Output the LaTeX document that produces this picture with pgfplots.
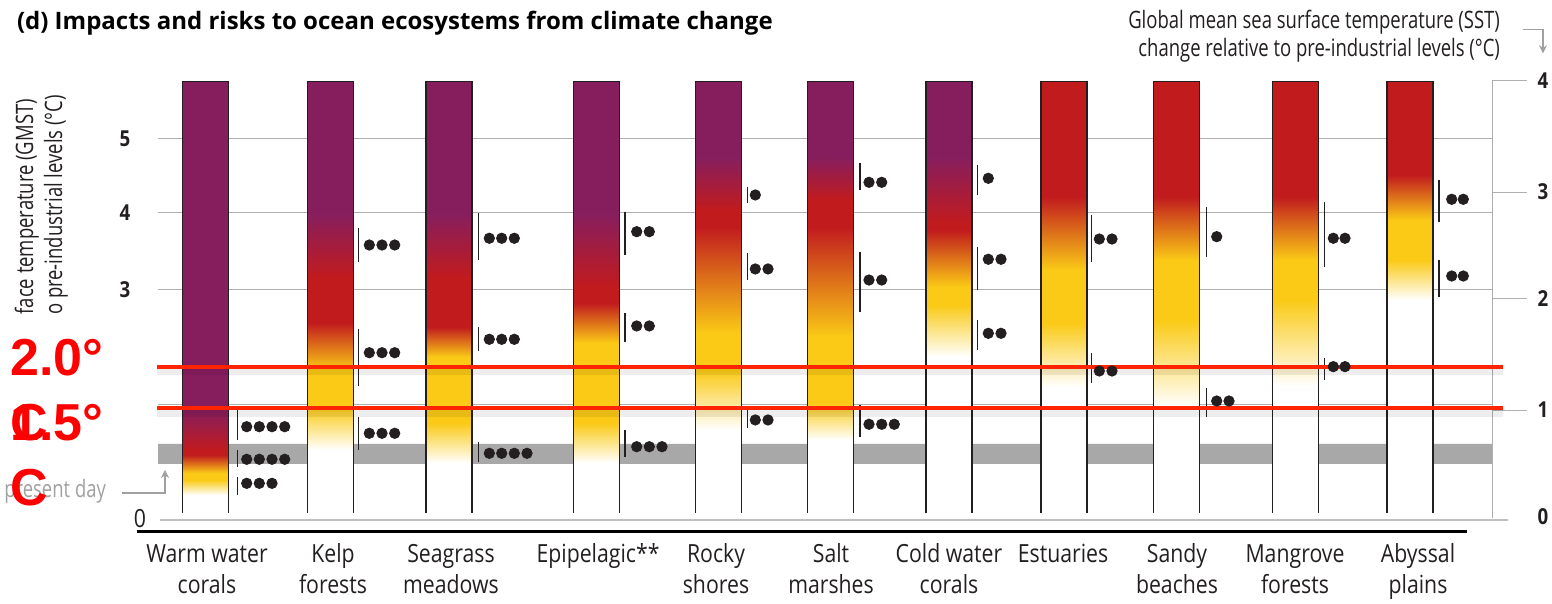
\documentclass[border=0pt]{standalone}
\usepackage{pgfplots}
\pgfplotsset{compat=1.18}
\usepackage{pgfplotstable}
\usepackage{fontspec}
\setmainfont{Open Sans}[FakeStretch=0.85]
\newfontfamily\hdrfont{Open Sans}[FakeStretch=0.77]
\newfontfamily\ttlfont{Open Sans}
\newfontfamily\redfnt{Liberation Sans}
\usetikzlibrary{arrows.meta}

\definecolor{cpurple}{RGB}{134,30,94}
\definecolor{cred}{RGB}{193,27,30}
\definecolor{cyellow}{RGB}{250,202,22}
\definecolor{textdark}{RGB}{35,31,32}
\definecolor{gridgray}{RGB}{175,175,175}
\definecolor{bandgray}{RGB}{168,168,168}
\definecolor{zerogray}{RGB}{190,190,190}
\definecolor{arrgray}{RGB}{160,160,160}
\definecolor{mark red}{RGB}{255,36,0}

\newcommand\lblfont{\fontsize{12.5}{15}\selectfont}
\newcommand\hdrsize{\hdrfont\fontsize{12}{14}\selectfont}
\newcommand\tickfont{\fontsize{11}{13}\selectfont\bfseries}
\newcommand\titlefnt{\ttlfont\fontsize{12}{14}\selectfont\bfseries}
\newcommand\bigred{\redfnt\bfseries\fontsize{26}{30}\selectfont}

% colour levels of each column, GMST (deg C): w = end of white,
% y1/y2 = solid yellow, r1/r2 = solid red, p1 = start of solid purple
\pgfplotstableread{
x      w     y1    y2    r1    r2    p1    top
205.7  0.310 0.508 0.600 0.838 0.904 1.431 5.77
330.3  0.904 1.471 1.959 2.579 3.186 4.030 5.77
449.0  0.732 1.260 2.131 2.526 3.186 4.030 5.77
596.3  0.732 1.260 2.315 2.843 3.054 4.030 5.77
718.7  1.168 1.959 2.447 3.846 4.070 4.769 5.77
830.5  1.036 1.524 2.395 3.846 4.202 4.769 5.77
949.0  2.131 2.817 3.054 3.806 3.898 4.769 5.77
1064.0 1.735 2.579 3.278 4.242 5.770 5.90  5.77
1176.7 1.471 2.619 3.410 4.242 5.770 5.90  5.77
1295.5 1.735 2.883 3.410 4.242 5.770 5.90  5.77
1410.0 2.883 3.410 3.938 4.532 5.770 5.90  5.77
}\bars

% one vertical shading per column; 25bp..75bp of it spans the bar
\pgfplotsforeachungrouped \i in {0,...,10}{%
  \pgfplotstablegetelem{\i}{top}\of\bars \let\ltop\pgfplotsretval
  \pgfplotstablegetelem{\i}{w}\of\bars  \pgfmathsetmacro\sA{25+50*\pgfplotsretval/\ltop}%
  \pgfplotstablegetelem{\i}{y1}\of\bars \pgfmathsetmacro\sB{25+50*\pgfplotsretval/\ltop}%
  \pgfplotstablegetelem{\i}{y2}\of\bars \pgfmathsetmacro\sC{25+50*\pgfplotsretval/\ltop}%
  \pgfplotstablegetelem{\i}{r1}\of\bars \pgfmathsetmacro\sD{25+50*\pgfplotsretval/\ltop}%
  \pgfplotstablegetelem{\i}{r2}\of\bars \pgfmathsetmacro\sE{25+50*\pgfplotsretval/\ltop}%
  \pgfplotstablegetelem{\i}{p1}\of\bars \pgfmathsetmacro\sF{25+50*\pgfplotsretval/\ltop}%
  \edef\tmp{\noexpand\pgfdeclareverticalshading{colbar\i}{100bp}{%
    color(0bp)=(white); color(\sA bp)=(white); color(\sB bp)=(cyellow);
    color(\sC bp)=(cyellow); color(\sD bp)=(cred); color(\sE bp)=(cred);
    color(\sF bp)=(cpurple); color(100bp)=(cpurple)}}%
  \tmp
}

\pgfplotsset{flat/.style={no marks}}

\begin{document}
\begin{tikzpicture}
\begin{axis}[
    name=ax, at={(0,0)}, anchor=south west,
    width=776pt, height=302pt, scale only axis,
    xmin=0, xmax=1552, ymin=-1.128, ymax=6.8404,
    axis lines=none, clip=false,
    unbounded coords=jump,
]
% present day band and grid
\addplot[flat, draw=none, fill=bandgray]
    coordinates {(158,0.719)(1492,0.719)(1492,0.983)(158,0.983)(158,0.719)};
\addplot[flat, gridgray, line width=0.5pt]
    coordinates {(158,5.016)(1492,5.016)(158,nan)
                 (158,4.034)(1492,4.034)(158,nan)
                 (158,3.015)(1492,3.015)(158,nan)
                 (158,1.507)(1492,1.507)};
\addplot[flat, zerogray, line width=0.75pt]
    coordinates {(160,-0.02)(1508,-0.02)};
% right SST axis
\addplot[flat, gridgray, line width=0.5pt]
    coordinates {(1492,0)(1492,5.772)(1527,5.772)(1492,nan)
                 (1492,4.307)(1527,4.307)(1492,nan)
                 (1492,2.896)(1527,2.896)(1492,nan)
                 (1492,1.431)(1527,1.431)};
\addplot[flat, black, line width=1.5pt]
    coordinates {(137,-0.165)(1467,-0.165)};

% colour bars, one per column
\pgfplotsinvokeforeach{0,...,10}{
  \addplot[ybar, bar width=46, bar shift=0pt, draw=none, shading=colbar#1,
           unbounded coords=discard, restrict expr to domain={\coordindex}{#1:#1}]
      table[x=x, y=top] {\bars};
}

% bar outlines
\addplot[flat, textdark, line width=0.6pt]
    coordinates {
    (182.7,0.07)(182.7,5.77)(228.7,5.77)(228.7,0.07)(0,nan)
    (307.3,0.07)(307.3,5.77)(353.3,5.77)(353.3,0.07)(0,nan)
    (426.0,0.07)(426.0,5.77)(472.0,5.77)(472.0,0.07)(0,nan)
    (573.3,0.07)(573.3,5.77)(619.3,5.77)(619.3,0.07)(0,nan)
    (695.7,0.07)(695.7,5.77)(741.7,5.77)(741.7,0.07)(0,nan)
    (807.5,0.07)(807.5,5.77)(853.5,5.77)(853.5,0.07)(0,nan)
    (926.0,0.07)(926.0,5.77)(972.0,5.77)(972.0,0.07)(0,nan)
    (1041.0,0.07)(1041.0,5.77)(1087.0,5.77)(1087.0,0.07)(0,nan)
    (1153.7,0.07)(1153.7,5.77)(1199.7,5.77)(1199.7,0.07)(0,nan)
    (1272.5,0.07)(1272.5,5.77)(1318.5,5.77)(1318.5,0.07)(0,nan)
    (1387.0,0.07)(1387.0,5.77)(1433.0,5.77)(1433.0,0.07)
    };

% confidence brackets
\addplot[flat, textdark, line width=0.75pt]
    coordinates {
    (237.3,1.431)(237.3,1.036)(0,nan)(237.3,0.904)(237.3,0.679)(0,nan)(237.3,0.547)(237.3,0.310)(0,nan)
    (358.3,3.833)(358.3,3.384)(0,nan)(358.3,2.500)(358.3,1.748)(0,nan)(358.3,1.343)(358.3,0.904)(0,nan)
    (478.7,4.026)(478.7,3.410)(0,nan)(478.7,2.526)(478.7,2.214)(0,nan)(478.7,1.013)(478.7,0.749)(0,nan)
    (625.0,4.048)(625.0,3.476)(0,nan)(625.0,2.715)(625.0,2.332)(0,nan)(625.0,1.168)(625.0,0.815)(0,nan)
    (747.7,4.377)(747.7,4.158)(0,nan)(747.7,3.499)(747.7,3.146)(0,nan)(747.7,1.431)(747.7,1.190)(0,nan)
    (860.0,4.686)(860.0,4.334)(0,nan)(860.0,3.520)(860.0,2.728)(0,nan)(860.0,1.497)(860.0,1.079)(0,nan)
    (977.7,4.664)(977.7,4.268)(0,nan)(977.7,3.586)(977.7,3.015)(0,nan)(977.7,2.619)(977.7,2.223)(0,nan)
    (1091.7,4.004)(1091.7,3.388)(0,nan)(1091.7,2.180)(1091.7,1.784)(0,nan)
    (1206.7,4.114)(1206.7,3.454)(0,nan)(1206.7,1.718)(1206.7,1.343)(0,nan)
    (1324.3,4.180)(1324.3,3.322)(0,nan)(1324.3,2.114)(1324.3,1.827)(0,nan)
    (1439.0,4.466)(1439.0,3.916)(0,nan)(1439.0,3.410)(1439.0,2.926)
    };
\addplot[only marks, mark=*, mark size=2.6pt,
         textdark, mark options={draw=textdark, fill=textdark}]
    coordinates {
    (246.7,1.211)(259.3,1.211)(272.0,1.211)(284.7,1.211)
    (246.7,0.781)(259.3,0.781)(272.0,0.781)(284.7,0.781)
    (246.7,0.464)(259.3,0.464)(272.0,0.464)
    (369.3,3.608)(382.0,3.608)(394.7,3.608)
    (369.3,2.187)(382.0,2.187)(394.7,2.187)
    (369.3,1.124)(382.0,1.124)(394.7,1.124)
    (489.3,3.697)(501.7,3.697)(514.3,3.697)
    (489.3,2.364)(501.7,2.364)(514.3,2.364)
    (489.3,0.860)(501.7,0.860)(514.3,0.860)(527.0,0.860)
    (636.7,3.784)(649.3,3.784)
    (636.7,2.540)(649.3,2.540)
    (636.7,0.947)(649.3,0.947)(662.0,0.947)
    (755.3,4.268)
    (755.3,3.292)(768.0,3.292)
    (755.3,1.300)(768.0,1.300)
    (869.0,4.435)(881.7,4.435)
    (869.0,3.146)(881.7,3.146)
    (869.0,1.243)(881.7,1.243)(894.3,1.243)
    (988.3,4.488)
    (988.3,3.420)(1001.0,3.420)
    (988.3,2.443)(1001.0,2.443)
    (1099.3,3.687)(1112.0,3.687)
    (1099.3,1.946)(1112.0,1.946)
    (1216.7,3.718)
    (1216.7,1.550)(1229.0,1.550)
    (1333.3,3.697)(1345.0,3.697)
    (1333.3,2.003)(1345.0,2.003)
    (1451.7,4.211)(1463.3,4.211)
    (1451.7,3.199)(1463.3,3.199)
    };

% red 2.0 and 1.5 degree lines with their soft shadow
\addplot[flat, black, opacity=0.07, line width=4pt]
    coordinates {(157,1.945)(1503,1.945)(157,nan)(157,1.396)(1503,1.396)};
\addplot[flat, mark red, line width=2pt]
    coordinates {(157,2.003)(1503,2.003)(157,nan)(157,1.454)(1503,1.454)};

% texts
\node[anchor=base west, font=\titlefnt, text=black] at (axis cs:10,6.4446)
    {(d) Impacts and risks to ocean ecosystems from climate change};
\node[anchor=base east, font=\hdrsize, text=textdark] at (axis cs:1507,6.466)
    {Global mean sea surface temperature (SST)};
\node[anchor=base east, font=\hdrsize, text=textdark] at (axis cs:1507,6.092)
    {change relative to pre-industrial levels (°C)};
\draw[arrgray, line width=0.6pt, -{Stealth[length=4pt,width=4pt]}]
    (axis cs:1523,6.454) -| (axis cs:1543,6.137);

\node[rotate=90, anchor=base east, font=\hdrsize, text=textdark] at (axis cs:33,5.627)
    {face temperature (GMST)};
\node[rotate=90, anchor=base east, font=\hdrsize, text=textdark] at (axis cs:62,5.680)
    {o pre-industrial levels (°C)};

\node[font=\tickfont, text=textdark] at (axis cs:125,5.016) {5};
\node[font=\tickfont, text=textdark] at (axis cs:125,4.034) {4};
\node[font=\tickfont, text=textdark] at (axis cs:125,3.015) {3};
\node[font=\lblfont, text=textdark] at (axis cs:140,0.0) {0};

\node[font=\tickfont, text=textdark] at (axis cs:1543,5.772) {4};
\node[font=\tickfont, text=textdark] at (axis cs:1543,4.307) {3};
\node[font=\tickfont, text=textdark] at (axis cs:1543,2.896) {2};
\node[font=\tickfont, text=textdark] at (axis cs:1543,1.431) {1};
\node[font=\tickfont, text=textdark] at (axis cs:1543,0.024) {0};

\node[anchor=base east, font=\hdrsize, text=arrgray] at (axis cs:113,0.2705) {present day};
\draw[arrgray, line width=0.6pt, -{Stealth[length=4pt,width=4pt]}]
    (axis cs:122,0.336) -| (axis cs:165,0.640);

% category labels
\node[anchor=base, font=\lblfont, text=textdark] at (axis cs:207,-0.587) {Warm water};
\node[anchor=base, font=\lblfont, text=textdark] at (axis cs:207,-0.983) {corals};
\node[anchor=base, font=\lblfont, text=textdark] at (axis cs:333,-0.587) {Kelp};
\node[anchor=base, font=\lblfont, text=textdark] at (axis cs:333,-0.983) {forests};
\node[anchor=base, font=\lblfont, text=textdark] at (axis cs:451,-0.587) {Seagrass};
\node[anchor=base, font=\lblfont, text=textdark] at (axis cs:451,-0.983) {meadows};
\node[anchor=base, font=\lblfont, text=textdark] at (axis cs:598,-0.587) {Epipelagic**};
\node[anchor=base, font=\lblfont, text=textdark] at (axis cs:716,-0.587) {Rocky};
\node[anchor=base, font=\lblfont, text=textdark] at (axis cs:716,-0.983) {shores};
\node[anchor=base, font=\lblfont, text=textdark] at (axis cs:831,-0.587) {Salt};
\node[anchor=base, font=\lblfont, text=textdark] at (axis cs:831,-0.983) {marshes};
\node[anchor=base, font=\lblfont, text=textdark] at (axis cs:949,-0.587) {Cold water};
\node[anchor=base, font=\lblfont, text=textdark] at (axis cs:949,-0.983) {corals};
\node[anchor=base, font=\lblfont, text=textdark] at (axis cs:1063,-0.587) {Estuaries};
\node[anchor=base, font=\lblfont, text=textdark] at (axis cs:1177,-0.587) {Sandy};
\node[anchor=base, font=\lblfont, text=textdark] at (axis cs:1177,-0.983) {beaches};
\node[anchor=base, font=\lblfont, text=textdark] at (axis cs:1295,-0.587) {Mangrove};
\node[anchor=base, font=\lblfont, text=textdark] at (axis cs:1295,-0.983) {forests};
\node[anchor=base, font=\lblfont, text=textdark] at (axis cs:1418,-0.587) {Abyssal};
\node[anchor=base, font=\lblfont, text=textdark] at (axis cs:1418,-0.983) {plains};

% red overlay labels
\node[anchor=base west, font=\bigred, text=red, inner sep=0pt] at (axis cs:10,1.893) {2.0°};
\node[anchor=base west, font=\bigred, text=red, inner sep=0pt] at (axis cs:10,1.0225) {C};
\node[anchor=base west, font=\bigred, text=red, inner sep=0pt] at (axis cs:10,1.0225) {1.5°};
\node[anchor=base west, font=\bigred, text=red, inner sep=0pt] at (axis cs:10,0.178) {C};
\end{axis}
\pgfresetboundingbox
\path[use as bounding box] (ax.south west) rectangle (ax.north east);
\end{tikzpicture}
\end{document}
